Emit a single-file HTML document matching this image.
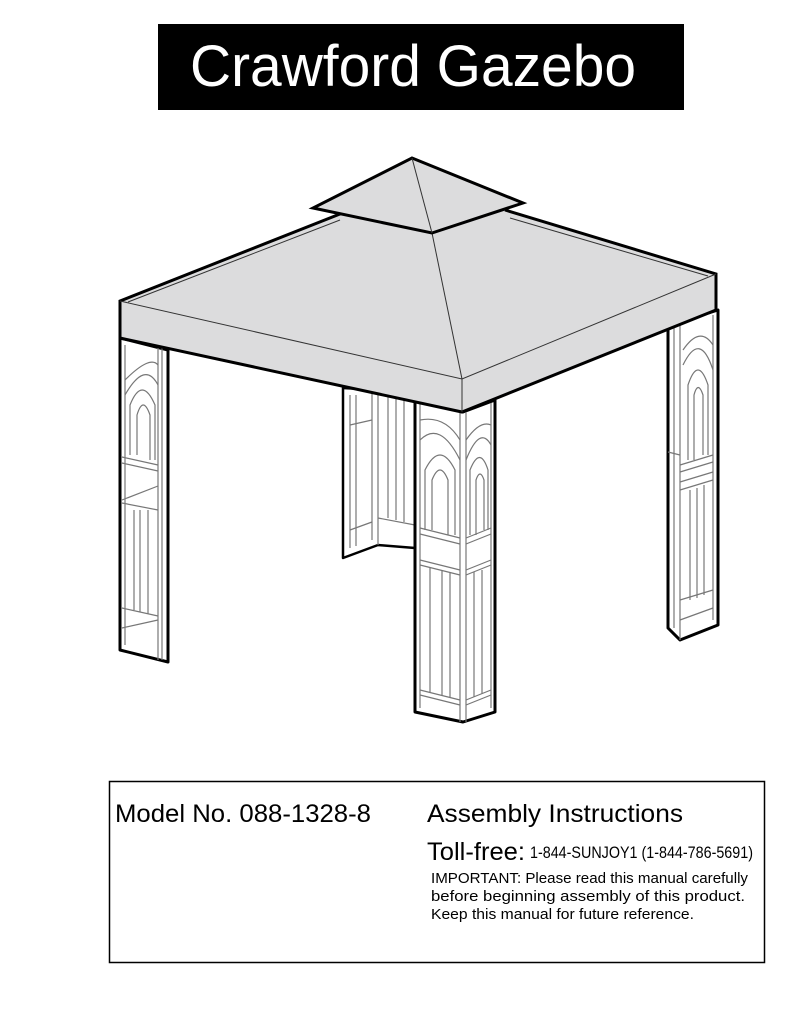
<!DOCTYPE html>
<html><head><meta charset="utf-8"><style>
html,body{margin:0;padding:0;background:#fff;}
svg{display:block;}
</style></head><body>
<svg width="791" height="1024" viewBox="0 0 791 1024" xmlns="http://www.w3.org/2000/svg">
<rect x="158" y="24" width="526" height="86" fill="#000"/>
<text x="413" y="86" fill="#fff" font-family="Liberation Sans, sans-serif" font-size="58" text-anchor="middle" textLength="446" lengthAdjust="spacingAndGlyphs">Crawford Gazebo</text>

<!-- back leg -->
<g stroke-linejoin="round">
<polygon points="343,388 415,392 415,548 378,545 343,558" fill="#fff" stroke="#000" stroke-width="2.5"/>
<g stroke="#777" stroke-width="1.2" fill="none">
<line x1="350" y1="395" x2="350" y2="548"/><line x1="356" y1="395" x2="356" y2="546"/>
<line x1="372" y1="392" x2="372" y2="540"/><line x1="378" y1="392" x2="378" y2="545"/>
<line x1="388" y1="392" x2="388" y2="518"/><line x1="396" y1="392" x2="396" y2="520"/><line x1="404" y1="392" x2="404" y2="522"/>
<line x1="350" y1="425" x2="372" y2="420"/><line x1="350" y1="530" x2="372" y2="522"/>
<line x1="378" y1="518" x2="415" y2="525"/>
</g>
<!-- left leg -->
<polygon points="120,338 168,350 168,662 120,650" fill="#fff" stroke="#000" stroke-width="3"/>
<g stroke="#777" stroke-width="1.2" fill="none">
<line x1="158" y1="348" x2="158" y2="660"/><line x1="162" y1="348" x2="162" y2="660"/>
<line x1="125" y1="345" x2="125" y2="645"/>
<line x1="122" y1="457" x2="158" y2="465"/><line x1="122" y1="463" x2="158" y2="471"/>
<line x1="122" y1="503" x2="158" y2="510"/><line x1="122" y1="500" x2="158" y2="486"/>
<line x1="122" y1="608" x2="158" y2="616"/><line x1="122" y1="628" x2="158" y2="620"/>
<line x1="134" y1="510" x2="134" y2="610"/><line x1="140" y1="510" x2="140" y2="612"/><line x1="148" y1="510" x2="148" y2="614"/>
<path d="M125,380 Q150,355 158,365 M125,395 Q145,360 158,385 M130,455 L130,405 Q142,375 155,405 L155,460 M137,455 L137,415 Q143,395 150,415 L150,460"/>
</g>
<!-- right leg -->
<polygon points="668,325 680,322 718,310 718,625 680,640 668,628" fill="#fff" stroke="#000" stroke-width="3"/>
<g stroke="#777" stroke-width="1.2" fill="none">
<line x1="680" y1="322" x2="680" y2="640"/><line x1="674" y1="325" x2="674" y2="628"/>
<line x1="713" y1="315" x2="713" y2="620"/>
<line x1="668" y1="452" x2="680" y2="455"/><line x1="680" y1="465" x2="713" y2="455"/><line x1="680" y1="472" x2="713" y2="462"/>
<line x1="680" y1="482" x2="713" y2="472"/><line x1="680" y1="490" x2="713" y2="480"/>
<line x1="680" y1="620" x2="713" y2="608"/><line x1="680" y1="600" x2="713" y2="590"/>
<line x1="690" y1="490" x2="690" y2="600"/><line x1="697" y1="488" x2="697" y2="598"/><line x1="704" y1="485" x2="704" y2="595"/>
<path d="M683,350 Q700,325 713,345 M683,365 Q700,330 713,370 M688,460 L688,385 Q698,355 708,385 L708,455 M694,460 L694,395 Q698,380 703,395 L703,455"/>
</g>
<!-- front leg -->
<polygon points="415,393 463,412 495,400 495,712 463,722 415,712" fill="#fff" stroke="#000" stroke-width="3"/>
<g stroke="#777" stroke-width="1.2" fill="none">
<line x1="460" y1="412" x2="460" y2="722"/><line x1="466" y1="412" x2="466" y2="722"/>
<line x1="420" y1="400" x2="420" y2="708"/><line x1="491" y1="403" x2="491" y2="708"/>
<line x1="420" y1="528" x2="460" y2="538"/><line x1="420" y1="534" x2="460" y2="544"/>
<line x1="466" y1="538" x2="491" y2="528"/><line x1="466" y1="544" x2="491" y2="534"/>
<line x1="420" y1="560" x2="460" y2="570"/><line x1="420" y1="565" x2="460" y2="575"/>
<line x1="466" y1="570" x2="491" y2="560"/><line x1="466" y1="575" x2="491" y2="565"/>
<line x1="420" y1="690" x2="460" y2="700"/><line x1="420" y1="695" x2="460" y2="705"/>
<line x1="466" y1="700" x2="491" y2="690"/><line x1="466" y1="705" x2="491" y2="695"/>
<line x1="430" y1="568" x2="430" y2="692"/><line x1="442" y1="570" x2="442" y2="695"/><line x1="450" y1="572" x2="450" y2="697"/>
<line x1="474" y1="572" x2="474" y2="697"/><line x1="482" y1="570" x2="482" y2="694"/>
<path d="M420,420 Q445,415 460,440 M420,440 Q440,420 460,460 M425,530 L425,470 Q440,440 455,470 L455,535 M432,530 L432,480 Q440,460 448,480 L448,535"/>
<path d="M466,440 Q480,420 491,425 M466,460 Q480,425 491,445 M470,535 L470,470 Q480,445 488,470 L488,530 M476,535 L476,480 Q480,468 484,480 L484,530"/>
</g>
</g>

<!-- roof -->
<polygon points="120,301 345,212 505,210 716,274 716,310 462,412 120,338" fill="#dcdcdd"/>
<polyline points="120,338 120,301 345,212" fill="none" stroke="#000" stroke-width="3"/>
<polyline points="505,210 716,274 716,310" fill="none" stroke="#000" stroke-width="3"/>
<polyline points="120,338 462,412 716,310" fill="none" stroke="#000" stroke-width="3"/>
<g stroke="#333" stroke-width="1" fill="none">
<polyline points="120,301 462,379 716,274"/>
<line x1="462" y1="379" x2="462" y2="412"/>
<line x1="432" y1="233" x2="462" y2="379"/>
<line x1="128" y1="302" x2="340" y2="220"/>
<line x1="510" y1="218" x2="708" y2="276"/>
</g>
<!-- finial -->
<polygon points="412,158 523,203 432,233 313,208" fill="#dcdcdd" stroke="#000" stroke-width="3" stroke-linejoin="miter"/>
<line x1="412" y1="158" x2="432" y2="233" stroke="#333" stroke-width="1"/>

<!-- info box -->
<rect x="109.5" y="781.5" width="655" height="181" fill="none" stroke="#000" stroke-width="1.5"/>
<g font-family="Liberation Sans, sans-serif" fill="#000">
<text x="115" y="822" font-size="25" textLength="256" lengthAdjust="spacingAndGlyphs">Model No. 088-1328-8</text>
<text x="427" y="822" font-size="25" textLength="256" lengthAdjust="spacingAndGlyphs">Assembly Instructions</text>
<text x="427" y="860" font-size="25" textLength="98" lengthAdjust="spacingAndGlyphs">Toll-free:</text>
<text x="530" y="858" font-size="17" textLength="223" lengthAdjust="spacingAndGlyphs">1-844-SUNJOY1 (1-844-786-5691)</text>
<text x="431" y="883" font-size="14.5" textLength="317" lengthAdjust="spacingAndGlyphs">IMPORTANT: Please read this manual carefully</text>
<text x="431" y="901" font-size="14.5" textLength="314" lengthAdjust="spacingAndGlyphs">before beginning assembly of this product.</text>
<text x="431" y="919" font-size="14.5" textLength="263" lengthAdjust="spacingAndGlyphs">Keep this manual for future reference.</text>
</g>
</svg>
</body></html>
